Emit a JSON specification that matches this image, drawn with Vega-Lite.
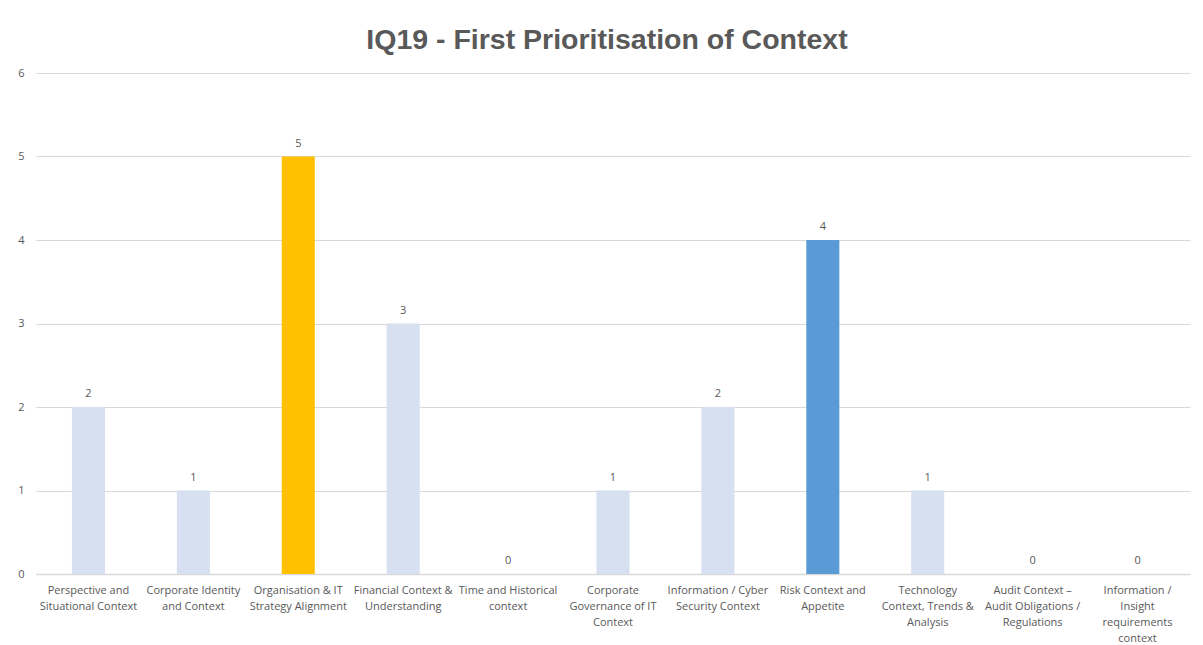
{
  "$schema": "https://vega.github.io/schema/vega-lite/v6.json",
  "width": 1154,
  "height": 501,
  "autosize": {"type": "none"},
  "padding": {"left": 36, "top": 73, "right": 13, "bottom": 71},
  "background": "white",
  "title": {
    "text": "IQ19 - First Prioritisation of Context",
    "font": "Liberation Sans",
    "fontSize": 28.5,
    "fontWeight": "bold",
    "color": "#595959",
    "anchor": "middle",
    "dx": -6,
    "offset": 13
  },
  "data": {
    "values": [
      {"category": "Perspective and\nSituational Context", "count": 2},
      {"category": "Corporate Identity\nand Context", "count": 1},
      {"category": "Organisation & IT\nStrategy Alignment", "count": 5},
      {"category": "Financial Context &\nUnderstanding", "count": 3},
      {"category": "Time and Historical\ncontext", "count": 0},
      {"category": "Corporate\nGovernance of IT\nContext", "count": 1},
      {"category": "Information / Cyber\nSecurity Context", "count": 2},
      {"category": "Risk Context and\nAppetite", "count": 4},
      {"category": "Technology\nContext, Trends &\nAnalysis", "count": 1},
      {"category": "Audit Context –\nAudit Obligations /\nRegulations", "count": 0},
      {"category": "Information /\nInsight\nrequirements\ncontext", "count": 0}
    ]
  },
  "encoding": {
    "x": {
      "field": "category",
      "type": "nominal",
      "sort": null,
      "scale": {"paddingInner": 0.685, "paddingOuter": 0.3425},
      "axis": {
        "title": null,
        "labelAngle": 0,
        "labelExpr": "split(datum.label, '\\n')",
        "labelFont": "Open Sans",
        "labelFontSize": 11,
        "labelColor": "#595959",
        "labelLineHeight": 16,
        "labelPadding": 10,
        "labelLimit": 0,
        "ticks": false,
        "domainColor": "#D9D9D9",
        "domainWidth": 1.5
      }
    },
    "y": {
      "field": "count",
      "type": "quantitative",
      "scale": {"domain": [0, 6]},
      "axis": {
        "title": null,
        "values": [0, 1, 2, 3, 4, 5, 6],
        "labelFont": "Open Sans",
        "labelFontSize": 11,
        "labelColor": "#595959",
        "labelPadding": 12,
        "ticks": false,
        "domain": false,
        "gridColor": "#D9D9D9",
        "gridWidth": 1
      }
    }
  },
  "layer": [
    {
      "mark": {"type": "bar"},
      "encoding": {
        "color": {
          "field": "category",
          "type": "nominal",
          "legend": null,
          "scale": {
            "domain": [
              "Perspective and\nSituational Context",
              "Corporate Identity\nand Context",
              "Organisation & IT\nStrategy Alignment",
              "Financial Context &\nUnderstanding",
              "Time and Historical\ncontext",
              "Corporate\nGovernance of IT\nContext",
              "Information / Cyber\nSecurity Context",
              "Risk Context and\nAppetite",
              "Technology\nContext, Trends &\nAnalysis",
              "Audit Context –\nAudit Obligations /\nRegulations",
              "Information /\nInsight\nrequirements\ncontext"
            ],
            "range": ["#D6E0F0", "#D6E0F0", "#FFC000", "#D6E0F0", "#D6E0F0", "#D6E0F0", "#D6E0F0", "#5B9BD5", "#D6E0F0", "#D6E0F0", "#D6E0F0"]
          }
        }
      }
    },
    {
      "mark": {"type": "text", "baseline": "bottom", "dy": -8, "font": "Open Sans", "fontSize": 11, "color": "#595959"},
      "encoding": {"text": {"field": "count", "type": "quantitative"}}
    }
  ],
  "config": {"view": {"stroke": null}}
}
